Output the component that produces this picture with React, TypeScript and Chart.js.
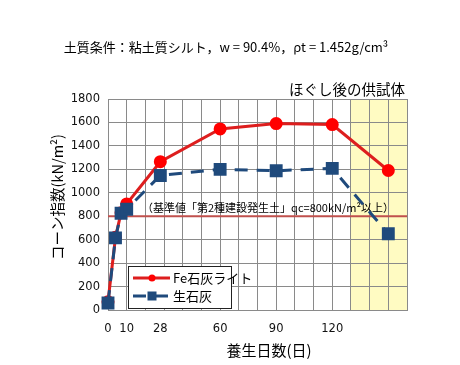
import React, { useEffect, useRef } from "react";
import { Chart, registerables } from "chart.js";

Chart.register(...registerables);

const days = [0, 4, 7, 10, 28, 60, 90, 120, 150];
const feLime = [70, 620, 830, 905, 1265, 1545, 1590, 1582, 1190];
const quickLime = [60, 615, 825, 860, 1148, 1200, 1188, 1208, 650];
const xTickLabels = [0, 10, 28, 60, 90, 120];
const seriesNames = ["Fe石灰ライト", "生石灰"];
const bandRange = [130, 160];
const refValue = 800;

const titleText = "土質条件：粘土質シルト，w = 90.4%，ρt = 1.452g/cm³";
const bandLabel = "ほぐし後の供試体";
const refLabel = "（基準値「第2種建設発生土」qc=800kN/m²以上）";
const yTitle = "コーン指数(kN/m²)";
const xTitle = "養生日数(日)";

const JP = '"Noto Sans CJK JP", sans-serif';
const NUM = '"DejaVu Sans", sans-serif';
const GRID = "#8a8a8a";
const RED_LINE = "#dd1e1e";
const RED_PT = "#ff0000";
const BLUE = "#1f4a7c";

const extras = {
  id: "extras",
  beforeDraw(chart: any) {
    const { ctx, chartArea, scales } = chart;
    ctx.save();
    ctx.fillStyle = "#ffffff";
    ctx.fillRect(0, 0, chart.width, chart.height);
    const x0 = scales.x.getPixelForValue(bandRange[0]);
    const x1 = scales.x.getPixelForValue(bandRange[1]);
    ctx.fillStyle = "#fffbc2";
    ctx.fillRect(x0, chartArea.top, x1 - x0, chartArea.bottom - chartArea.top);
    ctx.restore();
  },
  beforeDatasetsDraw(chart: any) {
    const { ctx, chartArea, scales } = chart;
    const y = scales.y.getPixelForValue(refValue);
    ctx.save();
    ctx.strokeStyle = "#c0504d";
    ctx.lineWidth = 2;
    ctx.beginPath();
    ctx.moveTo(chartArea.left, y);
    ctx.lineTo(chartArea.right, y);
    ctx.stroke();
    ctx.fillStyle = "#000";
    ctx.font = `11px ${JP}`;
    ctx.textBaseline = "middle";
    ctx.textAlign = "left";
    ctx.fillText(refLabel, chartArea.left + 34, y - 8);
    ctx.restore();
  },
  afterDraw(chart: any) {
    const { ctx, chartArea } = chart;
    ctx.save();
    ctx.fillStyle = "#000";
    ctx.textBaseline = "middle";
    // main title
    ctx.font = `13px ${JP}`;
    ctx.textAlign = "center";
    ctx.fillText(titleText, 226, 47);
    // band label
    ctx.font = `14.5px ${JP}`;
    ctx.textAlign = "right";
    ctx.fillText(bandLabel, chartArea.right - 2, chartArea.top - 10);
    // x title
    ctx.font = `15px ${JP}`;
    ctx.textAlign = "center";
    ctx.fillText(xTitle, 269, 350);
    // y title
    ctx.save();
    ctx.translate(57, 197);
    ctx.rotate(-Math.PI / 2);
    ctx.font = `14.5px ${JP}`;
    ctx.textAlign = "center";
    ctx.fillText(yTitle, 0, 0);
    ctx.restore();
    // legend
    const lx = chartArea.left + 20;
    const ly = chartArea.bottom - 44;
    const lw = 103;
    const lh = 42;
    ctx.fillStyle = "#fff";
    ctx.fillRect(lx, ly, lw, lh);
    ctx.strokeStyle = "#222";
    ctx.lineWidth = 1;
    ctx.strokeRect(lx + 0.5, ly + 0.5, lw, lh);
    const ds = chart.data.datasets;
    const rows = [ly + 12, ly + 30];
    ds.forEach((d: any, i: number) => {
      const ry = rows[i];
      ctx.save();
      ctx.strokeStyle = d.borderColor;
      ctx.lineWidth = 3;
      ctx.setLineDash(d.borderDash || []);
      ctx.beginPath();
      ctx.moveTo(lx + 5, ry);
      ctx.lineTo(lx + 42, ry);
      ctx.stroke();
      ctx.setLineDash([]);
      ctx.fillStyle = d.pointBackgroundColor;
      if (d.pointStyle === "rect") {
        ctx.fillRect(lx + 24 - 4.5, ry - 4.5, 9, 9);
      } else {
        ctx.beginPath();
        ctx.arc(lx + 24, ry, 3.5, 0, Math.PI * 2);
        ctx.fill();
      }
      ctx.fillStyle = "#000";
      ctx.font = `13px ${JP}`;
      ctx.textAlign = "left";
      ctx.fillText(d.label, lx + 45, ry);
      ctx.restore();
    });
    ctx.restore();
  },
};

export default function App() {
  const ref = useRef<HTMLCanvasElement>(null);
  useEffect(() => {
    document.body.style.margin = "0";
    const chart = new Chart(ref.current as HTMLCanvasElement, {
      type: "line",
      data: {
        datasets: [
          {
            label: seriesNames[0],
            data: days.map((d, i) => ({ x: d, y: feLime[i] })),
            borderColor: RED_LINE,
            backgroundColor: RED_PT,
            pointBackgroundColor: RED_PT,
            pointBorderColor: RED_PT,
            borderWidth: 3,
            pointStyle: "circle",
            pointRadius: 5,
            clip: false,
            order: 1,
          } as any,
          {
            label: seriesNames[1],
            data: days.map((d, i) => ({ x: d, y: quickLime[i] })),
            borderColor: BLUE,
            backgroundColor: BLUE,
            pointBackgroundColor: BLUE,
            pointBorderColor: BLUE,
            borderWidth: 3,
            borderDash: [13, 9],
            pointStyle: "rect",
            pointRadius: 7,
            clip: false,
            order: 0,
          } as any,
        ],
      },
      options: {
        responsive: false,
        animation: false,
        layout: { padding: { top: 99, right: 53, left: 0, bottom: 0 } },
        plugins: { legend: { display: false }, tooltip: { enabled: false } },
        scales: {
          x: {
            type: "linear",
            position: "bottom",
            min: 0,
            max: 160,
            ticks: { stepSize: 10, display: false },
            grid: { color: GRID, drawTicks: false },
            border: { color: GRID },
            afterFit: (s: any) => {
              s.height = 0;
            },
          },
          x2: {
            type: "linear",
            position: "bottom",
            min: 0,
            max: 160,
            afterBuildTicks: (s: any) => {
              s.ticks = xTickLabels.map((v) => ({ value: v }));
            },
            ticks: {
              autoSkip: false,
              maxRotation: 0,
              padding: 12,
              color: "#111",
              font: { family: NUM, size: 11.5 },
              callback: (v: any) => String(v),
            },
            grid: { display: false, drawTicks: false },
            border: { display: false },
            afterFit: (s: any) => {
              s.height = 55;
            },
          },
          y: {
            min: 0,
            max: 1800,
            ticks: {
              stepSize: 200,
              padding: 8,
              color: "#111",
              font: { family: NUM, size: 11.5 },
              callback: (v: any) => String(v),
            },
            grid: { color: GRID, drawTicks: false },
            border: { color: GRID },
            afterFit: (s: any) => {
              s.width = 108;
            },
          },
        },
      },
      plugins: [extras],
    } as any);
    return () => chart.destroy();
  }, []);
  return (
    <div style={{ position: "absolute", left: 0, top: 0, width: 460, height: 365 }}>
      <canvas ref={ref} width={460} height={365} />
    </div>
  );
}
